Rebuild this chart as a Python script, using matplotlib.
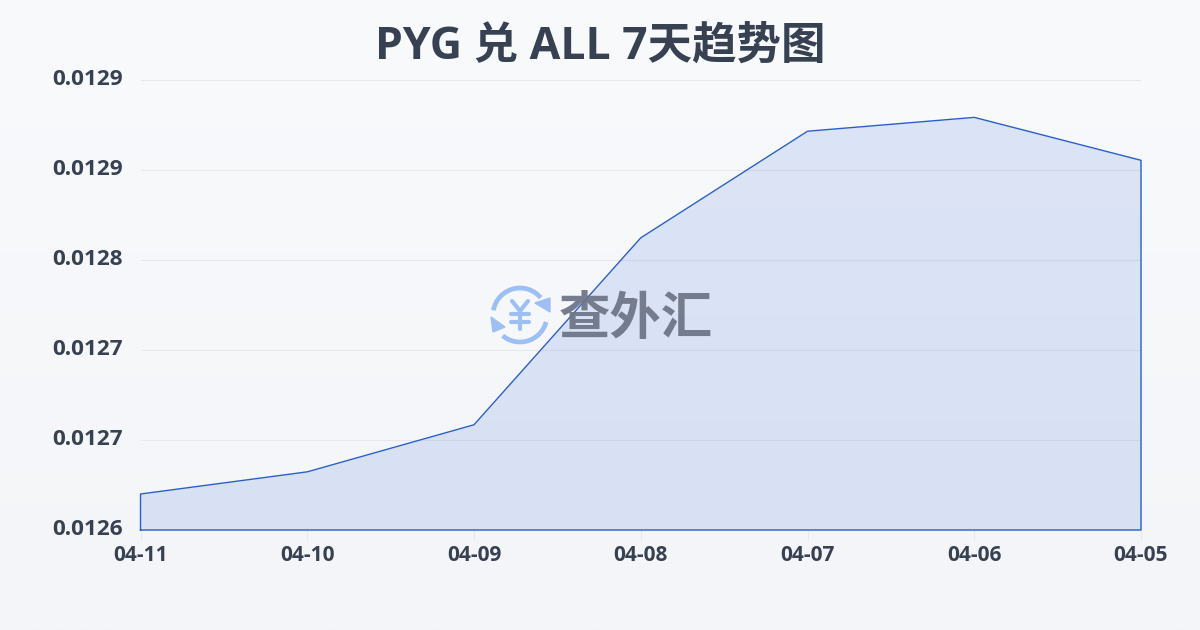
import matplotlib
matplotlib.use('Agg')
from matplotlib import pyplot as plt, patches
from matplotlib.ticker import FormatStrFormatter
from matplotlib.transforms import ScaledTranslation
import numpy as np

plt.rcParams['font.family'] = ['Open Sans', 'Noto Sans CJK SC', 'DejaVu Sans']

dates = ['04-11', '04-10', '04-09', '04-08', '04-07', '04-06', '04-05']
rates = [0.012626, 0.012642, 0.012676, 0.012811, 0.012888, 0.012898, 0.012867]
y_ticks = [0.0126, 0.012665, 0.01273, 0.012795, 0.01286, 0.012925]

text_color = '#374151'
line_color = '#2b5fc7'

W, H = 1200, 630
fig = plt.figure(figsize=(W / 100, H / 100), dpi=100)

# background gradient
bg = fig.add_axes([0, 0, 1, 1], zorder=0)
top = np.array([0xf9, 0xfa, 0xfc]) / 255
bottom = np.array([0xf3, 0xf5, 0xf8]) / 255
grad = np.linspace(0, 1, 256)[:, None, None]
bg.imshow(top + (bottom - top) * grad, aspect='auto', extent=[0, 1, 0, 1])
bg.axis('off')

ax = fig.add_axes([140.5 / W, 1 - 530 / H, 1000.5 / W, 450 / H], zorder=1)
ax.patch.set_alpha(0)
x = np.arange(len(dates))
ax.fill_between(x, rates, y_ticks[0], color='#3b6fdc', alpha=0.15, lw=0, zorder=3)
outline_x = [x[0], *x, x[-1], x[0]]
outline_y = [y_ticks[0], *rates, y_ticks[0], y_ticks[0]]
ax.plot(outline_x, outline_y, color=line_color, lw=1, zorder=4, clip_on=False)

ax.set_xlim(x[0], x[-1])
ax.set_ylim(y_ticks[0], y_ticks[-1])
ax.set_xticks(x, dates)
ax.set_yticks(y_ticks)
ax.yaxis.set_major_formatter(FormatStrFormatter('%.4f'))
ax.grid(axis='y', color='#e6e8ed', lw=0.8, zorder=1)
ax.set_axisbelow(True)
for s in ax.spines.values():
    s.set_visible(False)
ax.tick_params(axis='x', length=7, width=0.8, color='#e6e8ed', pad=3.5,
               labelsize=15, labelcolor=text_color)
ax.tick_params(axis='y', length=0, pad=13, labelsize=16.2, labelcolor=text_color)
for lab in ax.get_xticklabels():
    lab.set_fontweight('bold')
up = ScaledTranslation(0, 2 / 72, fig.dpi_scale_trans)
for lab in ax.get_yticklabels():
    lab.set_fontweight('bold')
    lab.set_transform(lab.get_transform() + up)

fig.text(0.5, 1 - 47 / H, 'PYG 兑 ALL 7天趋势图', ha='center', va='center',
         fontsize=32, fontweight='bold', color=text_color)

# watermark logo, in pixel coordinates
logo = fig.add_axes([0, 0, 1, 1], zorder=2)
logo.set_xlim(0, W)
logo.set_ylim(H, 0)
logo.axis('off')
blue = '#9dbff5'
logo.add_patch(patches.Arc((520, 315), 54, 54, theta1=190, theta2=320, color=blue, lw=3.4))
logo.add_patch(patches.Arc((520, 315), 54, 54, theta1=15, theta2=130, color=blue, lw=3.4))
logo.add_patch(patches.Polygon([(550, 298), (550, 312), (535, 303)], color=blue))
logo.add_patch(patches.Polygon([(491, 317), (505, 327), (493, 332)], color=blue))
logo.plot([512, 520, 528], [301, 311, 301], color=blue, lw=3, solid_capstyle='round')
logo.plot([520, 520], [311, 329], color=blue, lw=3, solid_capstyle='round')
logo.plot([511, 529], [314, 314], color=blue, lw=3, solid_capstyle='round')
logo.plot([511, 529], [322, 322], color=blue, lw=3, solid_capstyle='round')
logo.text(636, 321, '查外汇', ha='center', va='center', fontsize=37, fontweight='bold',
          color='#6b7385', alpha=0.92)

fig.savefig('out.png', dpi=100)
